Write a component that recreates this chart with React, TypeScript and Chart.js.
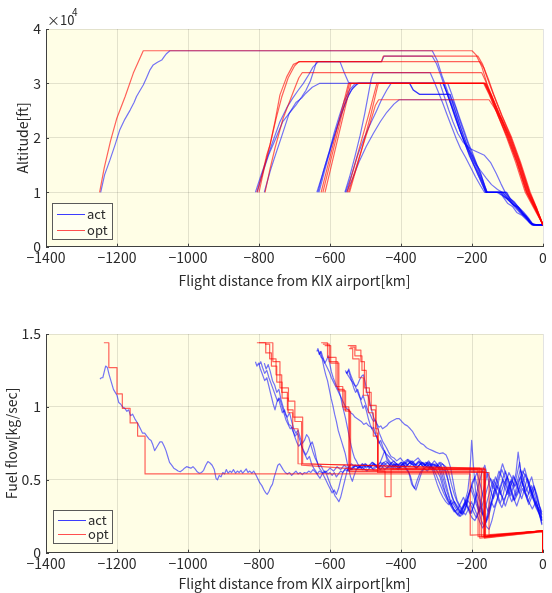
import React, { useEffect, useRef } from "react";
import { Chart, registerables } from "chart.js";

Chart.register(...registerables);

type P = [number, number];

// ---------- axes ----------
const xTickValues = [-1400, -1200, -1000, -800, -600, -400, -200, 0];
const altTickValues = [0, 10000, 20000, 30000, 40000];
const ffTickValues = [0, 0.5, 1, 1.5];
const seriesNames = ["act", "opt"];

// ---------- altitude, actual (blue) ----------
const altAct1: P[] = [[-1246,10000],[-1235,13200],[-1220,15900],[-1205,18800],[-1192,21500],[-1178,23400],[-1163,25100],[-1152,26500],[-1145,27600],[-1136,28600],[-1126,29700],[-1117,31000],[-1107,32500],[-1098,33400],[-1086,33900],[-1074,34300],[-1066,35000],[-1060,35500],[-1051,36000],[-312,36000],[-298,34200],[-285,31500],[-270,28800],[-255,25800],[-240,22800],[-226,20000],[-212,17800],[-198,15700],[-183,13200],[-170,11300],[-160,10000],[-120,10000],[-110,9200],[-95,8700],[-82,7600],[-68,7200],[-55,5800],[-42,5200],[-30,4100],[0,4000]];
const altAct2: P[] = [[-810,10000],[-795,13000],[-778,16200],[-760,19500],[-742,22800],[-722,25500],[-705,27300],[-690,28700],[-675,30000],[-660,31600],[-648,33000],[-633,34000],[-455,34000],[-448,35000],[-312,35000],[-300,33600],[-288,31500],[-276,29200],[-262,26600],[-249,24000],[-236,21600],[-222,19400],[-206,17300],[-190,15200],[-176,14000],[-160,12600],[-145,11400],[-128,10500],[-110,9800],[-98,8600],[-85,7900],[-70,7000],[-58,6000],[-45,5100],[-32,4200],[-20,4000],[0,4000]];
const altAct3: P[] = [[-805,10000],[-790,13500],[-772,17000],[-752,20000],[-733,23000],[-715,24500],[-696,26000],[-680,27500],[-668,28700],[-655,30500],[-645,32500],[-638,34000],[-572,34000],[-560,32000],[-548,30200],[-540,30000],[-376,30000],[-366,28800],[-348,28000],[-262,28000],[-250,25500],[-238,23000],[-225,20500],[-210,18000],[-196,16500],[-182,14500],[-168,12000],[-158,10000],[-104,10000],[-95,9000],[-80,8200],[-66,7000],[-52,6000],[-40,5000],[-28,4000],[0,4000]];
const altAct4: P[] = [[-785,10000],[-768,14000],[-752,17200],[-735,20500],[-715,24500],[-696,26500],[-680,27300],[-668,28200],[-650,29300],[-630,30000],[-282,30000],[-272,28500],[-260,26300],[-246,23800],[-233,21200],[-218,18600],[-204,16400],[-190,14200],[-176,12200],[-163,10200],[-156,10000],[-115,10000],[-100,9000],[-88,8300],[-75,7300],[-62,6500],[-48,5600],[-36,4500],[-24,4000],[0,4000]];
const altAct5: P[] = [[-637,10000],[-620,13500],[-605,16800],[-590,20000],[-575,23000],[-560,25800],[-548,27800],[-535,29200],[-522,30000],[-280,30000],[-268,27800],[-255,25300],[-244,23200],[-232,21000],[-220,19000],[-207,16600],[-195,15000],[-182,13500],[-170,11800],[-162,10000],[-130,10000],[-115,9400],[-100,8000],[-86,7400],[-74,6300],[-60,5800],[-44,4800],[-32,4000],[0,4000]];
const altAct6: P[] = [[-634,10000],[-618,14000],[-602,17500],[-588,21000],[-574,24000],[-560,26800],[-545,28800],[-532,29800],[-524,30000],[-268,30000],[-258,28200],[-246,25800],[-234,23500],[-222,21300],[-210,19000],[-198,17200],[-186,15000],[-175,13400],[-165,11200],[-158,10000],[-108,10000],[-98,9000],[-86,7800],[-72,7300],[-58,6200],[-46,5500],[-34,4300],[-26,4000],[0,4000]];
const altAct7: P[] = [[-631,10000],[-614,14200],[-598,18000],[-582,21500],[-568,24500],[-552,27200],[-540,28800],[-528,29600],[-520,30000],[-290,30000],[-278,27600],[-266,25200],[-254,23000],[-240,20800],[-225,19200],[-205,18000],[-185,17400],[-165,16800],[-148,15500],[-132,13500],[-118,11500],[-105,9800],[-92,8800],[-78,7800],[-64,6800],[-50,5600],[-38,4400],[-28,4000],[0,4000]];
const altAct8: P[] = [[-558,10000],[-545,12800],[-530,16500],[-515,20500],[-502,24500],[-492,28000],[-484,30800],[-478,32000],[-318,32000],[-306,30200],[-294,28300],[-282,26300],[-270,24200],[-257,22000],[-244,19800],[-232,18000],[-218,16400],[-204,14600],[-190,12800],[-176,11200],[-165,10000],[-125,10000],[-112,9300],[-98,8600],[-84,7600],[-70,6600],[-56,5700],[-42,4800],[-30,4000],[0,4000]];
const altAct9: P[] = [[-556,10000],[-540,13000],[-522,16800],[-505,19800],[-488,22300],[-470,24800],[-455,27000],[-440,28800],[-428,30000],[-375,30000],[-365,28800],[-348,28000],[-262,28000],[-252,26000],[-240,23600],[-228,21200],[-216,19000],[-204,17000],[-192,15200],[-180,13300],[-168,11400],[-159,10000],[-102,10000],[-92,8800],[-80,8000],[-68,7200],[-55,6400],[-42,5400],[-30,4300],[-18,4000],[0,4000]];
const altAct10: P[] = [[-553,10000],[-536,12600],[-518,15600],[-498,18400],[-478,20800],[-458,23000],[-440,24700],[-420,26200],[-405,27000],[-255,27000],[-246,25600],[-236,23500],[-225,21400],[-214,19400],[-202,17300],[-190,15300],[-178,13400],[-166,11500],[-157,10000],[-118,10000],[-105,9000],[-92,8200],[-78,7400],[-64,6300],[-50,5500],[-38,4600],[-26,4000],[0,4000]];

// ---------- altitude, optimal (red) ----------
const altOpt1: P[] = [[-1249,10000],[-1236,14500],[-1218,19500],[-1201,23500],[-1177,27600],[-1154,31900],[-1126,36000],[-200,36000],[-188,35200],[-172,33000],[-158,30000],[-140,27000],[-118,23500],[-97,20000],[-72,15500],[-45,10000],[-22,7000],[0,4000]];
const altOpt2: P[] = [[-806,10000],[-790,13500],[-778,16900],[-769,18700],[-755,23000],[-741,27900],[-722,31200],[-703,33500],[-685,34000],[-455,34000],[-450,35000],[-183,35000],[-170,33500],[-157,31000],[-141,28200],[-117,24200],[-90,20000],[-65,15500],[-38,10000],[-18,7000],[0,4000]];
const altOpt3: P[] = [[-800,10000],[-785,14500],[-768,19000],[-752,23500],[-736,27500],[-718,31000],[-700,33200],[-688,34000],[-178,34000],[-166,32800],[-154,30800],[-139,28000],[-115,24000],[-88,20000],[-63,15500],[-36,10000],[-17,7000],[0,4000]];
const altOpt4: P[] = [[-783,10000],[-770,14000],[-755,18100],[-732,23600],[-703,28500],[-688,31000],[-678,32000],[-173,32000],[-162,30500],[-149,28000],[-126,24200],[-100,20000],[-74,15500],[-47,10000],[-23,7000],[0,4000]];
const altOpt5: P[] = [[-625,10000],[-548,30000],[-167,30000],[-152,28000],[-128,24300],[-102,20000],[-77,15500],[-50,10000],[-25,7000],[0,4000]];
const altOpt6: P[] = [[-620,10000],[-545,30000],[-164,30000],[-147,27800],[-121,24000],[-93,20000],[-67,15500],[-40,10000],[-19,7000],[0,4000]];
const altOpt7: P[] = [[-614,10000],[-541,30000],[-161,30000],[-144,27700],[-119,23900],[-91,20000],[-66,15500],[-39,10000],[-18,7000],[0,4000]];
const altOpt8: P[] = [[-552,10000],[-520,17500],[-490,24500],[-468,30000],[-165,30000],[-150,27900],[-127,24100],[-99,20000],[-73,15500],[-46,10000],[-22,7000],[0,4000]];
const altOpt9: P[] = [[-548,10000],[-515,17000],[-488,22500],[-472,26000],[-463,27000],[-152,27000],[-135,25300],[-116,23300],[-94,20000],[-69,15500],[-42,10000],[-20,7000],[0,4000]];
const altOpt10: P[] = [[-545,10000],[-512,17500],[-484,24500],[-464,30000],[-163,30000],[-146,27800],[-123,24000],[-96,20000],[-70,15500],[-43,10000],[-21,7000],[0,4000]];

// ---------- fuel flow, actual (blue) ----------
const ffAct1: P[] = [[-1248,1.19],[-1244,1.20],[-1240,1.20],[-1236,1.24],[-1232,1.28],[-1227,1.27],[-1222,1.22],[-1216,1.17],[-1210,1.12],[-1205,1.10],[-1200,1.08],[-1195,1.03],[-1190,1.02],[-1184,1.00],[-1178,0.99],[-1172,0.97],[-1167,0.98],[-1162,0.94],[-1156,0.95],[-1150,0.92],[-1145,0.90],[-1140,0.88],[-1134,0.85],[-1128,0.82],[-1122,0.82],[-1116,0.80],[-1110,0.78],[-1104,0.77],[-1099,0.74],[-1094,0.70],[-1089,0.72],[-1084,0.74],[-1079,0.76],[-1073,0.76],[-1067,0.73],[-1062,0.70],[-1057,0.66],[-1052,0.62],[-1046,0.60],[-1040,0.58],[-1034,0.57],[-1028,0.56],[-1022,0.555],[-1016,0.565],[-1010,0.58],[-1004,0.59],[-998,0.585],[-992,0.58],[-986,0.59],[-980,0.575],[-974,0.555],[-968,0.545],[-962,0.55],[-956,0.565],[-950,0.60],[-944,0.625],[-938,0.615],[-932,0.60],[-926,0.57],[-921,0.51],[-917,0.50],[-912,0.53],[-907,0.52],[-902,0.55],[-897,0.54],[-892,0.57],[-887,0.545],[-882,0.56],[-877,0.55],[-872,0.57],[-866,0.545],[-861,0.56],[-856,0.55],[-851,0.565],[-846,0.545],[-841,0.56],[-836,0.575],[-831,0.55],[-826,0.56],[-820,0.545],[-815,0.56],[-810,0.54],[-804,0.51],[-798,0.48],[-792,0.46],[-786,0.43],[-781,0.41],[-777,0.40],[-772,0.42],[-767,0.45],[-762,0.47],[-757,0.52],[-752,0.56],[-747,0.60],[-742,0.61],[-737,0.59],[-732,0.57],[-726,0.55],[-720,0.54],[-714,0.55],[-708,0.53],[-702,0.545],[-696,0.56],[-690,0.54],[-684,0.55],[-678,0.535],[-672,0.55],[-666,0.545],[-660,0.56],[-654,0.55],[-648,0.57],[-642,0.555],[-636,0.54],[-630,0.56],[-624,0.55],[-618,0.545],[-612,0.56],[-606,0.54],[-600,0.55],[-594,0.53],[-588,0.55],[-582,0.52],[-576,0.54],[-570,0.56],[-564,0.55],[-558,0.57],[-552,0.56],[-546,0.58],[-540,0.57],[-530,0.60],[-520,0.58],[-510,0.61],[-500,0.59],[-490,0.60],[-480,0.575],[-470,0.60],[-460,0.59],[-450,0.62],[-440,0.60],[-430,0.58],[-420,0.605],[-410,0.59],[-400,0.61],[-390,0.60],[-380,0.63],[-370,0.61],[-360,0.60],[-350,0.625],[-340,0.60],[-330,0.62],[-320,0.60],[-310,0.58],[-300,0.53],[-290,0.47],[-280,0.41],[-270,0.36],[-260,0.32],[-250,0.28],[-240,0.30],[-230,0.27],[-220,0.33],[-210,0.40],[-200,0.46],[-190,0.37],[-180,0.30],[-170,0.26],[-160,0.33],[-150,0.42],[-140,0.50],[-130,0.45],[-120,0.40],[-110,0.47],[-100,0.52],[-90,0.44],[-80,0.36],[-70,0.41],[-60,0.49],[-50,0.42],[-40,0.35],[-30,0.30],[-20,0.35],[-10,0.27],[-3,0.22]];
const ffAct2: P[] = [[-810,1.31],[-806,1.28],[-801,1.30],[-796,1.26],[-790,1.22],[-784,1.18],[-778,1.20],[-772,1.14],[-766,1.08],[-760,1.02],[-755,0.98],[-750,1.03],[-745,1.06],[-740,1.01],[-734,0.96],[-728,0.98],[-722,0.93],[-716,0.88],[-710,0.87],[-704,0.83],[-698,0.80],[-692,0.82],[-686,0.78],[-680,0.73],[-674,0.70],[-668,0.67],[-662,0.70],[-656,0.74],[-650,0.76],[-644,0.71],[-638,0.64],[-632,0.59],[-626,0.60],[-620,0.57],[-614,0.55],[-608,0.56],[-600,0.58],[-590,0.56],[-580,0.59],[-570,0.57],[-560,0.60],[-550,0.58],[-540,0.61],[-530,0.59],[-520,0.60],[-510,0.58],[-500,0.61],[-490,0.59],[-480,0.62],[-470,0.60],[-460,0.61],[-452,0.66],[-446,0.70],[-440,0.64],[-430,0.61],[-420,0.63],[-410,0.60],[-400,0.62],[-390,0.61],[-380,0.64],[-370,0.62],[-360,0.60],[-350,0.63],[-340,0.61],[-330,0.60],[-320,0.62],[-310,0.60],[-300,0.61],[-292,0.57],[-284,0.50],[-276,0.42],[-268,0.36],[-260,0.33],[-250,0.29],[-240,0.26],[-230,0.30],[-220,0.35],[-212,0.42],[-206,0.55],[-201,0.77],[-196,0.60],[-190,0.42],[-182,0.30],[-174,0.22],[-166,0.18],[-158,0.25],[-150,0.35],[-142,0.45],[-134,0.52],[-126,0.47],[-118,0.40],[-110,0.36],[-100,0.42],[-90,0.50],[-80,0.46],[-72,0.55],[-66,0.62],[-60,0.50],[-52,0.42],[-44,0.38],[-36,0.45],[-28,0.40],[-20,0.32],[-12,0.28],[-4,0.24]];
const ffAct3: P[] = [[-800,1.29],[-795,1.31],[-790,1.27],[-784,1.23],[-778,1.25],[-772,1.20],[-766,1.16],[-760,1.12],[-754,1.08],[-748,1.04],[-742,1.06],[-736,1.01],[-730,0.96],[-724,0.91],[-718,0.88],[-712,0.85],[-706,0.86],[-700,0.80],[-694,0.76],[-688,0.73],[-682,0.75],[-676,0.70],[-670,0.67],[-664,0.64],[-658,0.66],[-652,0.61],[-646,0.58],[-640,0.56],[-634,0.53],[-628,0.51],[-622,0.54],[-616,0.56],[-610,0.54],[-604,0.50],[-598,0.46],[-592,0.43],[-586,0.39],[-580,0.37],[-575,0.35],[-570,0.38],[-564,0.44],[-558,0.50],[-552,0.56],[-546,0.59],[-538,0.57],[-528,0.60],[-518,0.58],[-508,0.61],[-498,0.58],[-488,0.60],[-478,0.57],[-468,0.59],[-458,0.62],[-448,0.60],[-438,0.58],[-428,0.61],[-418,0.59],[-408,0.57],[-398,0.60],[-388,0.58],[-378,0.55],[-370,0.47],[-362,0.44],[-354,0.50],[-346,0.55],[-336,0.58],[-326,0.56],[-316,0.59],[-306,0.57],[-296,0.60],[-286,0.58],[-276,0.56],[-268,0.50],[-260,0.42],[-252,0.36],[-244,0.33],[-236,0.30],[-228,0.27],[-220,0.30],[-212,0.36],[-204,0.33],[-196,0.28],[-188,0.24],[-180,0.29],[-172,0.38],[-164,0.47],[-156,0.55],[-148,0.50],[-140,0.44],[-132,0.49],[-124,0.56],[-116,0.52],[-108,0.45],[-100,0.40],[-92,0.46],[-84,0.53],[-76,0.49],[-68,0.42],[-60,0.37],[-52,0.44],[-44,0.51],[-36,0.46],[-28,0.38],[-20,0.33],[-12,0.30],[-4,0.27]];
const ffAct4: P[] = [[-785,1.30],[-780,1.26],[-774,1.29],[-768,1.24],[-762,1.18],[-756,1.15],[-750,1.10],[-744,1.12],[-738,1.05],[-732,1.00],[-726,0.95],[-720,0.93],[-714,0.96],[-708,0.90],[-702,0.85],[-696,0.82],[-690,0.84],[-684,0.79],[-678,0.75],[-672,0.77],[-666,0.81],[-660,0.79],[-654,0.74],[-648,0.69],[-642,0.65],[-636,0.62],[-630,0.58],[-624,0.56],[-618,0.53],[-612,0.50],[-606,0.47],[-600,0.44],[-594,0.41],[-588,0.43],[-582,0.40],[-576,0.44],[-570,0.50],[-564,0.55],[-556,0.58],[-546,0.56],[-536,0.59],[-526,0.57],[-516,0.60],[-506,0.58],[-496,0.56],[-486,0.59],[-476,0.61],[-466,0.58],[-456,0.60],[-446,0.57],[-436,0.59],[-426,0.62],[-416,0.60],[-406,0.58],[-396,0.61],[-386,0.59],[-376,0.62],[-366,0.60],[-356,0.58],[-346,0.61],[-336,0.59],[-326,0.62],[-316,0.60],[-306,0.63],[-296,0.60],[-288,0.57],[-280,0.50],[-272,0.43],[-264,0.37],[-256,0.32],[-248,0.29],[-240,0.27],[-232,0.25],[-224,0.28],[-216,0.33],[-208,0.40],[-200,0.48],[-192,0.52],[-184,0.45],[-176,0.36],[-168,0.27],[-160,0.22],[-152,0.27],[-144,0.36],[-136,0.44],[-128,0.40],[-120,0.34],[-112,0.40],[-104,0.49],[-96,0.55],[-88,0.51],[-80,0.45],[-72,0.49],[-64,0.57],[-56,0.52],[-48,0.45],[-40,0.40],[-32,0.46],[-24,0.40],[-16,0.33],[-8,0.25],[-3,0.20]];
const ffAct5: P[] = [[-637,1.38],[-634,1.40],[-630,1.37],[-625,1.34],[-620,1.33],[-615,1.30],[-610,1.32],[-605,1.35],[-601,1.30],[-596,1.24],[-591,1.20],[-586,1.17],[-581,1.14],[-576,1.12],[-571,1.08],[-566,1.02],[-561,0.97],[-556,0.92],[-551,0.86],[-546,0.80],[-541,0.74],[-536,0.69],[-531,0.65],[-526,0.63],[-520,0.60],[-512,0.58],[-502,0.61],[-492,0.59],[-482,0.62],[-472,0.60],[-462,0.58],[-452,0.61],[-442,0.63],[-432,0.60],[-422,0.58],[-412,0.61],[-402,0.59],[-392,0.62],[-382,0.60],[-372,0.63],[-362,0.61],[-352,0.59],[-342,0.62],[-332,0.60],[-322,0.58],[-312,0.61],[-302,0.59],[-292,0.62],[-284,0.58],[-276,0.50],[-268,0.42],[-260,0.35],[-252,0.30],[-244,0.27],[-236,0.25],[-228,0.29],[-220,0.34],[-212,0.31],[-204,0.27],[-196,0.32],[-188,0.40],[-180,0.48],[-172,0.55],[-164,0.60],[-156,0.52],[-148,0.43],[-140,0.37],[-132,0.42],[-124,0.50],[-116,0.57],[-108,0.52],[-100,0.45],[-92,0.39],[-84,0.45],[-76,0.55],[-70,0.69],[-64,0.58],[-56,0.48],[-48,0.42],[-40,0.47],[-32,0.52],[-24,0.44],[-16,0.36],[-8,0.30],[-3,0.26]];
const ffAct6: P[] = [[-634,1.39],[-630,1.36],[-625,1.38],[-620,1.34],[-614,1.30],[-608,1.27],[-602,1.24],[-596,1.20],[-590,1.17],[-584,1.14],[-578,1.11],[-572,1.08],[-566,1.05],[-560,1.02],[-554,0.99],[-548,0.98],[-542,0.96],[-536,0.95],[-530,0.93],[-524,0.92],[-518,0.91],[-512,0.90],[-505,0.88],[-498,0.89],[-491,0.87],[-484,0.86],[-477,0.83],[-470,0.80],[-463,0.77],[-456,0.73],[-449,0.70],[-442,0.68],[-434,0.66],[-426,0.64],[-418,0.62],[-408,0.60],[-398,0.62],[-388,0.59],[-378,0.61],[-368,0.63],[-358,0.60],[-348,0.62],[-338,0.59],[-328,0.61],[-318,0.58],[-308,0.61],[-298,0.59],[-288,0.62],[-280,0.60],[-272,0.55],[-264,0.46],[-256,0.38],[-248,0.33],[-240,0.30],[-232,0.34],[-224,0.38],[-216,0.33],[-208,0.28],[-200,0.24],[-192,0.22],[-184,0.26],[-176,0.32],[-168,0.25],[-160,0.18],[-152,0.16],[-144,0.22],[-136,0.30],[-128,0.37],[-120,0.44],[-112,0.50],[-104,0.46],[-96,0.40],[-88,0.35],[-80,0.40],[-72,0.47],[-64,0.52],[-56,0.46],[-48,0.39],[-40,0.33],[-32,0.38],[-24,0.45],[-16,0.39],[-8,0.30],[-3,0.22]];
const ffAct7: P[] = [[-631,1.36],[-627,1.38],[-622,1.33],[-617,1.27],[-612,1.22],[-607,1.18],[-602,1.12],[-597,1.06],[-592,1.01],[-587,0.95],[-582,0.90],[-577,0.84],[-572,0.80],[-567,0.76],[-562,0.72],[-557,0.68],[-552,0.62],[-547,0.57],[-542,0.52],[-537,0.49],[-532,0.53],[-526,0.57],[-518,0.59],[-508,0.57],[-498,0.60],[-488,0.58],[-478,0.61],[-468,0.59],[-458,0.57],[-448,0.60],[-438,0.62],[-428,0.59],[-418,0.61],[-408,0.58],[-398,0.60],[-388,0.62],[-378,0.59],[-368,0.61],[-358,0.58],[-348,0.60],[-338,0.62],[-328,0.59],[-318,0.61],[-308,0.58],[-298,0.56],[-290,0.52],[-282,0.45],[-274,0.40],[-266,0.36],[-258,0.33],[-250,0.35],[-242,0.31],[-234,0.28],[-226,0.26],[-218,0.30],[-210,0.38],[-202,0.45],[-194,0.50],[-186,0.55],[-178,0.48],[-170,0.40],[-162,0.33],[-154,0.28],[-146,0.34],[-138,0.42],[-130,0.48],[-122,0.54],[-114,0.61],[-106,0.55],[-98,0.47],[-90,0.41],[-82,0.36],[-74,0.42],[-66,0.50],[-58,0.56],[-50,0.53],[-42,0.47],[-34,0.41],[-26,0.36],[-18,0.32],[-10,0.26],[-3,0.19]];
const ffAct8: P[] = [[-555,1.24],[-550,1.22],[-545,1.20],[-540,1.18],[-536,1.17],[-531,1.15],[-526,1.14],[-521,1.16],[-516,1.19],[-511,1.21],[-506,1.22],[-501,1.17],[-496,1.10],[-491,1.06],[-486,1.01],[-481,0.96],[-476,0.92],[-471,0.90],[-466,0.86],[-461,0.82],[-456,0.79],[-451,0.76],[-446,0.74],[-441,0.72],[-435,0.69],[-428,0.66],[-420,0.65],[-412,0.63],[-402,0.65],[-392,0.62],[-382,0.64],[-372,0.61],[-362,0.63],[-352,0.65],[-342,0.62],[-332,0.60],[-322,0.63],[-314,0.59],[-306,0.53],[-298,0.47],[-290,0.42],[-282,0.38],[-274,0.35],[-266,0.33],[-258,0.36],[-250,0.32],[-242,0.29],[-234,0.27],[-226,0.31],[-218,0.36],[-210,0.31],[-202,0.27],[-194,0.33],[-186,0.41],[-178,0.35],[-170,0.27],[-162,0.20],[-154,0.24],[-146,0.32],[-138,0.40],[-130,0.46],[-122,0.43],[-114,0.37],[-106,0.32],[-98,0.38],[-90,0.46],[-82,0.52],[-74,0.47],[-66,0.41],[-58,0.47],[-50,0.54],[-42,0.49],[-34,0.43],[-26,0.38],[-18,0.34],[-10,0.29],[-3,0.24]];
const ffAct9: P[] = [[-553,1.23],[-548,1.25],[-543,1.21],[-538,1.17],[-533,1.13],[-528,1.10],[-522,1.12],[-517,1.08],[-512,1.03],[-507,0.99],[-502,1.01],[-497,0.97],[-492,0.92],[-487,0.88],[-482,0.85],[-477,0.86],[-472,0.82],[-467,0.78],[-462,0.75],[-457,0.77],[-452,0.73],[-447,0.70],[-442,0.67],[-436,0.64],[-430,0.62],[-422,0.59],[-412,0.61],[-402,0.58],[-392,0.60],[-382,0.57],[-374,0.53],[-366,0.46],[-358,0.43],[-350,0.49],[-342,0.55],[-334,0.58],[-324,0.60],[-314,0.57],[-304,0.60],[-294,0.58],[-284,0.61],[-274,0.59],[-266,0.55],[-258,0.47],[-250,0.40],[-242,0.35],[-234,0.31],[-226,0.28],[-218,0.26],[-210,0.30],[-202,0.35],[-194,0.31],[-186,0.26],[-178,0.21],[-170,0.17],[-162,0.20],[-154,0.27],[-146,0.35],[-138,0.31],[-130,0.36],[-122,0.44],[-114,0.50],[-106,0.56],[-98,0.50],[-90,0.43],[-82,0.37],[-74,0.32],[-66,0.38],[-58,0.44],[-50,0.40],[-42,0.35],[-34,0.40],[-26,0.46],[-18,0.39],[-10,0.32],[-3,0.28]];
const ffAct10: P[] = [[-557,1.25],[-552,1.23],[-547,1.26],[-542,1.22],[-537,1.19],[-532,1.16],[-527,1.13],[-522,1.10],[-517,1.07],[-512,1.05],[-507,1.08],[-502,1.04],[-497,1.00],[-492,0.97],[-487,0.95],[-482,0.92],[-477,0.90],[-472,0.91],[-467,0.88],[-462,0.86],[-457,0.87],[-452,0.85],[-446,0.86],[-440,0.87],[-434,0.89],[-428,0.90],[-420,0.91],[-412,0.92],[-405,0.92],[-398,0.90],[-390,0.88],[-382,0.87],[-374,0.85],[-367,0.83],[-360,0.80],[-352,0.77],[-344,0.75],[-336,0.74],[-328,0.72],[-320,0.71],[-311,0.70],[-302,0.69],[-292,0.68],[-282,0.685],[-273,0.67],[-266,0.63],[-260,0.58],[-254,0.50],[-248,0.42],[-242,0.36],[-236,0.33],[-228,0.30],[-220,0.33],[-212,0.38],[-204,0.44],[-196,0.39],[-188,0.33],[-180,0.28],[-172,0.32],[-164,0.38],[-156,0.45],[-148,0.51],[-140,0.47],[-132,0.41],[-124,0.35],[-116,0.31],[-108,0.36],[-100,0.43],[-92,0.49],[-84,0.45],[-76,0.39],[-68,0.44],[-60,0.51],[-52,0.58],[-44,0.51],[-36,0.43],[-28,0.37],[-20,0.31],[-12,0.27],[-4,0.22]];

// ---------- fuel flow, optimal (red, stepped) ----------
const ffOpt1: P[] = [[-1237,1.44],[-1223,1.44],[-1223,1.27],[-1200,1.27],[-1200,1.09],[-1185,1.09],[-1185,0.99],[-1163,0.99],[-1163,0.89],[-1142,0.89],[-1142,0.80],[-1121,0.80],[-1121,0.54],[-205,0.54],[-205,0.12],[-150,0.125],[-1,0.15],[-1,0]];
const ffOpt2: P[] = [[-800,1.44],[-761,1.44],[-761,1.31],[-741,1.31],[-741,1.13],[-717,1.13],[-717,1.04],[-699,1.04],[-699,0.90],[-680,0.90],[-680,0.60],[-445,0.56],[-445,0.385],[-428,0.385],[-428,0.575],[-183,0.57],[-183,0.11],[-1,0.15],[-1,0]];
const ffOpt3: P[] = [[-806,1.44],[-781,1.44],[-781,1.37],[-765,1.37],[-765,1.28],[-750,1.28],[-750,1.17],[-735,1.17],[-735,1.06],[-718,1.06],[-718,0.96],[-705,0.96],[-705,0.85],[-690,0.85],[-690,0.61],[-178,0.58],[-178,0.10],[-1,0.145],[-1,0]];
const ffOpt4: P[] = [[-783,1.43],[-770,1.43],[-770,1.33],[-752,1.33],[-752,1.22],[-736,1.22],[-736,1.10],[-720,1.10],[-720,0.98],[-704,0.98],[-704,0.93],[-677,0.93],[-677,0.61],[-173,0.575],[-173,0.11],[-1,0.15],[-1,0]];
const ffOpt5: P[] = [[-625,1.44],[-607,1.44],[-607,1.34],[-583,1.34],[-583,1.14],[-564,1.14],[-564,1.0],[-547,1.0],[-547,0.56],[-167,0.56],[-167,0.11],[-1,0.15],[-1,0]];
const ffOpt6: P[] = [[-620,1.43],[-602,1.43],[-602,1.31],[-578,1.31],[-578,1.12],[-560,1.12],[-560,0.98],[-545,0.98],[-545,0.555],[-165,0.555],[-165,0.10],[-1,0.145],[-1,0]];
const ffOpt7: P[] = [[-615,1.42],[-598,1.42],[-598,1.30],[-575,1.30],[-575,1.11],[-556,1.11],[-556,0.97],[-542,0.97],[-542,0.57],[-162,0.57],[-162,0.11],[-1,0.15],[-1,0]];
const ffOpt8: P[] = [[-550,1.42],[-527,1.42],[-527,1.39],[-513,1.39],[-513,1.31],[-503,1.31],[-503,1.13],[-489,1.13],[-489,1.01],[-470,1.01],[-470,0.82],[-466,0.82],[-466,0.58],[-165,0.58],[-165,0.11],[-1,0.15],[-1,0]];
const ffOpt9: P[] = [[-546,1.40],[-536,1.40],[-536,1.33],[-518,1.33],[-518,1.20],[-506,1.20],[-506,1.08],[-492,1.08],[-492,0.96],[-478,0.96],[-478,0.80],[-466,0.80],[-466,0.55],[-152,0.55],[-152,0.12],[-1,0.15],[-1,0]];
const ffOpt10: P[] = [[-543,1.41],[-530,1.41],[-530,1.35],[-510,1.35],[-510,1.25],[-498,1.25],[-498,1.10],[-484,1.10],[-484,0.98],[-472,0.98],[-472,0.85],[-464,0.85],[-464,0.575],[-163,0.575],[-163,0.11],[-1,0.15],[-1,0]];

const altActAll = [altAct1, altAct2, altAct3, altAct4, altAct5, altAct6, altAct7, altAct8, altAct9, altAct10];
const altOptAll = [altOpt1, altOpt2, altOpt3, altOpt4, altOpt5, altOpt6, altOpt7, altOpt8, altOpt9, altOpt10];
const ffActAll = [ffAct1, ffAct2, ffAct3, ffAct4, ffAct5, ffAct6, ffAct7, ffAct8, ffAct9, ffAct10];
const ffOptAll = [ffOpt1, ffOpt2, ffOpt3, ffOpt4, ffOpt5, ffOpt6, ffOpt7, ffOpt8, ffOpt9, ffOpt10];

// ---------- styling ----------
const FONT = "'Noto Sans CJK JP', 'Noto Sans', 'DejaVu Sans', sans-serif";
const TEXT = "#2a2a2a";
const BG = "#fffee6";
const GRID = "rgba(0,0,0,0.11)";
const AXIS = "#404040";
const ACT = "rgba(0,0,255,0.55)";
const OPT = "rgba(255,0,0,0.62)";
const LINE_W = 1.2;

const fmtMinus = (v: number) => (v < 0 ? "\u2212" + Math.abs(v) : String(v));

interface PanelCfg {
  height: number;
  padTop: number;
  xAxisH: number;
  xTitlePadBottom: number;
  yMin: number;
  yMax: number;
  yTicks: number[];
  yFmt: (v: number) => string;
  yTitle: string;
  yTitlePad: number;
  act: P[][];
  opt: P[][];
  legend: { x: number; y: number; w: number; h: number };
  exponent: boolean;
}

function Panel({ cfg }: { cfg: PanelCfg }) {
  const ref = useRef<HTMLCanvasElement>(null);
  useEffect(() => {
    const canvas = ref.current;
    if (!canvas) return;
    const datasets: any[] = [];
    cfg.opt.forEach((s) =>
      datasets.push({
        data: s.map(([x, y]) => ({ x, y })),
        borderColor: OPT,
        borderWidth: LINE_W,
        pointRadius: 0,
        fill: false,
        tension: 0,
        order: 0,
      })
    );
    cfg.act.forEach((s) =>
      datasets.push({
        data: s.map(([x, y]) => ({ x, y })),
        borderColor: ACT,
        borderWidth: LINE_W,
        pointRadius: 0,
        fill: false,
        tension: 0,
        order: 1,
      })
    );

    const deco = {
      id: "deco",
      beforeDraw(chart: any) {
        const { ctx, chartArea: a } = chart;
        ctx.save();
        ctx.fillStyle = BG;
        ctx.fillRect(a.left, a.top, a.right - a.left, a.bottom - a.top);
        ctx.restore();
      },
      beforeDatasetsDraw(chart: any) {
        const { ctx, chartArea: a, scales } = chart;
        ctx.save();
        ctx.strokeStyle = AXIS;
        ctx.lineWidth = 1;
        ctx.beginPath();
        xTickValues.forEach((v) => {
          const px = Math.round(scales.x.getPixelForValue(v)) + 0.5;
          ctx.moveTo(px, a.bottom);
          ctx.lineTo(px, a.bottom - 3);
        });
        cfg.yTicks.forEach((v) => {
          const py = Math.round(scales.y.getPixelForValue(v)) + 0.5;
          ctx.moveTo(a.left, py);
          ctx.lineTo(a.left + 3, py);
        });
        ctx.stroke();
        ctx.restore();
      },
      afterDraw(chart: any) {
        const { ctx } = chart;
        const L = cfg.legend;
        ctx.save();
        ctx.fillStyle = "#fffff0";
        ctx.fillRect(L.x, L.y, L.w, L.h);
        ctx.strokeStyle = "#5a5a5a";
        ctx.lineWidth = 1;
        ctx.strokeRect(L.x + 0.5, L.y + 0.5, L.w, L.h);
        const rows = [L.y + L.h * 0.3, L.y + L.h * 0.74];
        const cols = ["rgba(40,40,255,0.9)", "rgba(255,60,60,0.9)"];
        ctx.font = `13px ${FONT}`;
        ctx.textBaseline = "middle";
        ctx.textAlign = "left";
        rows.forEach((ry, i) => {
          ctx.strokeStyle = cols[i];
          ctx.beginPath();
          ctx.moveTo(L.x + 5, Math.round(ry) + 0.5);
          ctx.lineTo(L.x + 33, Math.round(ry) + 0.5);
          ctx.stroke();
          ctx.fillStyle = TEXT;
          ctx.fillText(seriesNames[i], L.x + 35, ry);
        });
        if (cfg.exponent) {
          ctx.fillStyle = TEXT;
          ctx.font = `13px ${FONT}`;
          ctx.textBaseline = "alphabetic";
          ctx.fillText("\u00d710", 47, 25);
          ctx.font = `10px ${FONT}`;
          ctx.fillText("4", 72, 16);
        }
        ctx.restore();
      },
    };

    const chart = new Chart(canvas, {
      type: "line",
      data: { datasets },
      plugins: [deco],
      options: {
        animation: false,
        responsive: false,
        maintainAspectRatio: false,
        layout: { padding: { top: cfg.padTop, right: 9, left: 0, bottom: 0 } },
        plugins: { legend: { display: false }, tooltip: { enabled: false } },
        elements: { line: { borderJoinStyle: "round" } },
        scales: {
          x: {
            type: "linear",
            min: -1400,
            max: 0,
            afterBuildTicks: (s: any) => {
              s.ticks = xTickValues.map((v) => ({ value: v }));
            },
            afterFit: (s: any) => {
              s.height = cfg.xAxisH;
            },
            ticks: {
              color: TEXT,
              font: { family: FONT, size: 14 },
              padding: 3,
              maxRotation: 0,
              autoSkip: false,
              callback: (v: any) => fmtMinus(Number(v)),
            },
            grid: { color: GRID, drawTicks: false },
            border: { display: true, color: AXIS },
            title: {
              display: true,
              text: "Flight distance from KIX airport[km]",
              color: TEXT,
              font: { family: FONT, size: 14 },
              padding: { top: 0, bottom: cfg.xTitlePadBottom },
            },
          },
          y: {
            type: "linear",
            min: cfg.yMin,
            max: cfg.yMax,
            afterBuildTicks: (s: any) => {
              s.ticks = cfg.yTicks.map((v) => ({ value: v }));
            },
            afterFit: (s: any) => {
              s.width = 46;
            },
            ticks: {
              color: TEXT,
              font: { family: FONT, size: 14 },
              padding: 5,
              autoSkip: false,
              callback: (v: any) => cfg.yFmt(Number(v)),
            },
            grid: { color: GRID, drawTicks: false },
            border: { display: true, color: AXIS },
            title: {
              display: true,
              text: cfg.yTitle,
              color: TEXT,
              font: { family: FONT, size: 14 },
              padding: { top: cfg.yTitlePad, bottom: 0 },
            },
          },
        },
      } as any,
    });
    return () => chart.destroy();
  }, [cfg]);
  return <canvas ref={ref} width={552} height={cfg.height} style={{ display: "block", width: 552, height: cfg.height }} />;
}

const topCfg: PanelCfg = {
  height: 300,
  padTop: 29,
  xAxisH: 53.3,
  xTitlePadBottom: 10.6,
  yMin: 0,
  yMax: 40000,
  yTicks: altTickValues,
  yFmt: (v) => String(v / 10000),
  yTitle: "Altitude[ft]",
  yTitlePad: 14.5,
  act: altActAll,
  opt: altOptAll,
  legend: { x: 52, y: 203, w: 60, h: 36 },
  exponent: true,
};

const bottomCfg: PanelCfg = {
  height: 293,
  padTop: 34,
  xAxisH: 40.3,
  xTitlePadBottom: 0.6,
  yMin: 0,
  yMax: 1.5,
  yTicks: ffTickValues,
  yFmt: (v) => String(v),
  yTitle: "Fuel flow[kg/sec]",
  yTitlePad: 3.6,
  act: ffActAll,
  opt: ffOptAll,
  legend: { x: 53, y: 210, w: 59, h: 33 },
  exponent: false,
};

export default function App() {
  return (
    <div style={{ position: "absolute", left: 0, top: 0, width: 552, height: 593, background: "#ffffff", overflow: "hidden" }}>
      <Panel cfg={topCfg} />
      <Panel cfg={bottomCfg} />
    </div>
  );
}
